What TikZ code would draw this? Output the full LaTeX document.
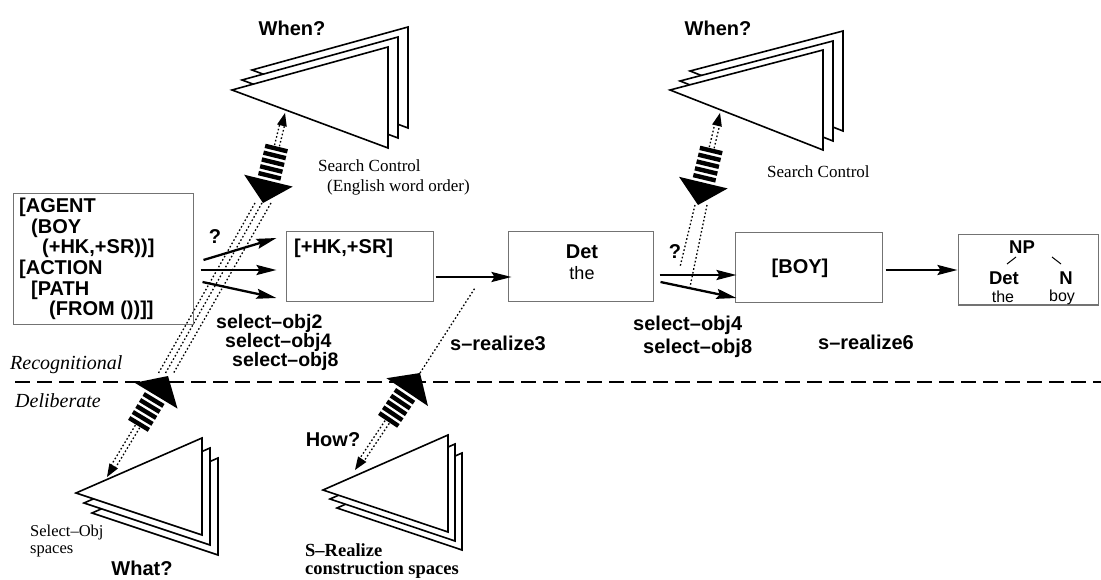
\documentclass[tikz,border=0pt]{standalone}
\usepackage{fontspec}
\setmainfont{Liberation Sans}
\newfontfamily\serifx{Liberation Serif}
\usetikzlibrary{calc,arrows.meta}
\newcommand\fbig{\fontsize{20}{20.6}\selectfont\bfseries}
\newcommand\fsel{\fontsize{19.5}{18}\selectfont\bfseries}
\newcommand\fsm{\fontsize{18}{18}\selectfont}
\newcommand\ftree{\fontsize{18.5}{18}\selectfont\bfseries}
\newcommand\ftsm{\fontsize{16}{16}\selectfont}
\newcommand\fser{\serifx\fontsize{17}{20}\selectfont}
\newcommand\chunksym[2]{%
  \coordinate (hb) at ($(#2)!23pt!(#1)$);
  \fill (#2) -- ($(hb)!25pt!90:(#1)$) -- ($(hb)!25pt!-90:(#1)$) -- cycle;
  \foreach \dd in {28,35,42,49,56} {
    \coordinate (sb) at ($(#2)!\dd pt!(#1)$);
    \draw[line width=4.4pt] ($(sb)!11.5pt!90:(#1)$) -- ($(sb)!11.5pt!-90:(#1)$);
  }
  \coordinate (ds) at ($(#2)!59pt!(#1)$);
  \coordinate (de) at ($(#1)!13pt!(#2)$);
  \draw[dotline] ($(ds)!2.5pt!90:(#1)$) -- ($(de)!2.5pt!90:(#1)$);
  \draw[dotline] ($(ds)!2.5pt!-90:(#1)$) -- ($(de)!2.5pt!-90:(#1)$);
  \fill (#1) -- ($(de)!5pt!90:(#1)$) -- ($(de)!5pt!-90:(#1)$) -- cycle;
}
\tikzset{
  box/.style={draw=black!55, line width=1pt, inner sep=0pt},
  tri/.style={draw=black, fill=white, line width=1.6pt, line join=miter},
  arr/.style={line width=2.3pt, -{Stealth[length=20pt,width=10pt,inset=3pt]}},
  dotline/.style={line width=1.3pt, dash pattern=on 1.6pt off 2.2pt},
  divider/.style={line width=1.6pt, dash pattern=on 15pt off 7pt},
  tree/.style={line width=1pt}
}
\begin{document}
\begin{tikzpicture}[x=1pt,y=-1pt]
\useasboundingbox[fill=white] (0,0) rectangle (1101,580);

% ---- problem spaces (stacked triangles)
\foreach \ox/\oy in {20/-20,10/-10,0/0}
  \filldraw[tri, shift={(\ox,\oy)}] (232,90) -- (388,47) -- (388,148) -- cycle;
\foreach \ox/\oy in {20/-19,10/-9,0/0}
  \filldraw[tri, shift={(\ox,\oy)}] (670,90) -- (823,50) -- (823,150) -- cycle;
\foreach \ox/\oy in {16/20,8/10,0/0}
  \filldraw[tri, shift={(\ox,\oy)}] (76,493) -- (202,438) -- (202,535) -- cycle;
\foreach \ox/\oy in {14/18,7/9,0/0}
  \filldraw[tri, shift={(\ox,\oy)}] (323,490) -- (448,435) -- (448,532) -- cycle;

% ---- divider
\coordinate (dvL) at (15,382);
\coordinate (dvR) at (1101,382);
\draw[divider] (dvL) -- (dvR);

% ---- chunk end points
\coordinate (aTL) at (285,113); \coordinate (bTL) at (263,203);
\coordinate (aBL) at (107,477); \coordinate (bBL) at (168,376);
\coordinate (aBM) at (355,470); \coordinate (bBM) at (420,373);
\coordinate (aTR) at (720,113); \coordinate (bTR) at (698,205);

% ---- dotted connectors
\coordinate (p1) at (255,203); \coordinate (q1) at (158,374);
\coordinate (p2) at (262,203); \coordinate (q2) at (165,374);
\coordinate (p3) at (271,203); \coordinate (q3) at (173,374);
\draw[dotline] (p1) -- (q1);
\draw[dotline] (p2) -- (q2);
\draw[dotline] (p3) -- (q3);
\coordinate (p4) at (695,205); \coordinate (q4) at (680,267);
\coordinate (p5) at (707,205); \coordinate (q5) at (690,287);
\draw[dotline] (p4) -- (q4);
\draw[dotline] (p5) -- (q5);
\coordinate (q6) at (475,288);
\draw[dotline] (bBM) -- (q6);

% ---- chunk symbols
\chunksym{aTL}{bTL}
\chunksym{aBL}{bBL}
\chunksym{aBM}{bBM}
\chunksym{aTR}{bTR}

% ---- boxes
\node[box, minimum width=180pt, minimum height=130pt] (b1) at (103,259) {};
\node[box, minimum width=147pt, minimum height=70pt] (b2) at (359.5,267) {};
\node[box, minimum width=145pt, minimum height=70pt] (b3) at (580.5,267) {};
\node[box, minimum width=147pt, minimum height=70pt] (b4) at (808.5,268) {};
\node[box, minimum width=140pt, minimum height=70pt] (b5) at (1028,270) {};

% ---- box texts
\node[anchor=north west, inner sep=0pt, align=left, font=\fbig] (t1) at (19,198)
  {[AGENT\\\hspace*{12pt}(BOY\\\hspace*{23pt}(+HK,+SR))]\\\relax[ACTION\\\hspace*{12pt}[PATH\\\hspace*{30pt}(FROM ())]]};
\node[anchor=west, inner sep=0pt, font=\fbig] (t2) at (294,248) {[+HK,+SR]};
\node[font=\fbig, inner sep=0pt] (t3a) at (582,252) {Det};
\node[font=\fsm, inner sep=0pt] (t3b) at (582,273) {the};
\node[font=\fbig, inner sep=0pt] (t4) at (800,268) {[BOY]};
\node[font=\ftree, inner sep=0pt] (np) at (1022,247) {NP};
\node[font=\ftree, inner sep=0pt] (dt) at (1004,278) {Det};
\node[font=\ftree, inner sep=0pt] (nn) at (1066,278) {N};
\node[font=\ftsm, inner sep=0pt] (th) at (1003,297) {the};
\node[font=\ftsm, inner sep=0pt] (by) at (1062,297) {boy};
\coordinate (l1a) at (1007,264); \coordinate (l1b) at (1016,257);
\coordinate (l2a) at (1052,257); \coordinate (l2b) at (1061,264);
\draw[tree] (l1a) -- (l1b);
\draw[tree] (l2a) -- (l2b);

% ---- operator arrows
\draw[arr] ($(b1.east)+(10,1)$) -- ($(b2.west)+(-9,-29)$);
\draw[arr] ($(b1.east)+(7,11)$) -- ($(b2.west)+(-9,3)$);
\draw[arr] ($(b1.east)+(9,23)$) -- ($(b2.west)+(-9,31)$);
\draw[arr] ($(b2.east)+(2,10)$) -- ($(b3.west)+(4,10)$);
\draw[arr] ($(b3.east)+(6,8)$) -- ($(b4.west)+(2,7)$);
\draw[arr] ($(b3.east)+(7,15)$) -- ($(b4.west)+(2,30)$);
\draw[arr] ($(b4.east)+(3,2)$) -- (b5.west);

% ---- labels
\node[font=\fbig, inner sep=0pt] (q1l) at (215,237) {?};
\node[font=\fbig, inner sep=0pt] (q2l) at (675,252) {?};
\node[anchor=north west, inner sep=0pt, align=left, font=\fsel] (so1) at (216,314)
  {select–obj2\\\hspace*{9pt}select–obj4\\\hspace*{16pt}select–obj8};
\node[anchor=west, inner sep=0pt, font=\fbig] (so2) at (633,325) {select–obj4};
\node[anchor=west, inner sep=0pt, font=\fbig] (so3) at (643,348) {select–obj8};
\node[anchor=west, inner sep=0pt, font=\fbig] (sr3) at (450,343) {s–realize3};
\node[anchor=west, inner sep=0pt, font=\fbig] (sr6) at (818,342) {s–realize6};

\node[font=\fbig, inner sep=0pt] (w1) at (292,28) {When?};
\node[font=\fbig, inner sep=0pt] (w2) at (718,28) {When?};
\node[font=\fbig, inner sep=0pt] (wh) at (142,568) {What?};
\node[font=\fbig, inner sep=0pt] (hw) at (333,440) {How?};

\node[anchor=north west, inner sep=0pt, align=left, font=\fser] (sc1) at (318,160)
  {Search Control\\\hspace*{9pt}(English word order)};
\node[anchor=west, inner sep=0pt, font=\fser] (sc2) at (767,172) {Search Control};
\node[anchor=west, inner sep=0pt, font=\serifx\itshape\fontsize{20}{20}\selectfont] (rec) at (10,365) {Recognitional};
\node[anchor=west, inner sep=0pt, font=\serifx\itshape\fontsize{20}{20}\selectfont] (del) at (15,401) {Deliberate};
\node[anchor=north west, inner sep=0pt, align=left, font=\serifx\fontsize{16.5}{17}\selectfont] (sos) at (30,525)
  {Select–Obj\\spaces};
\node[anchor=north west, inner sep=0pt, align=left, font=\serifx\bfseries\fontsize{18.5}{18}\selectfont] (srs) at (305,543)
  {S–Realize\\construction spaces};
\end{tikzpicture}
\end{document}
